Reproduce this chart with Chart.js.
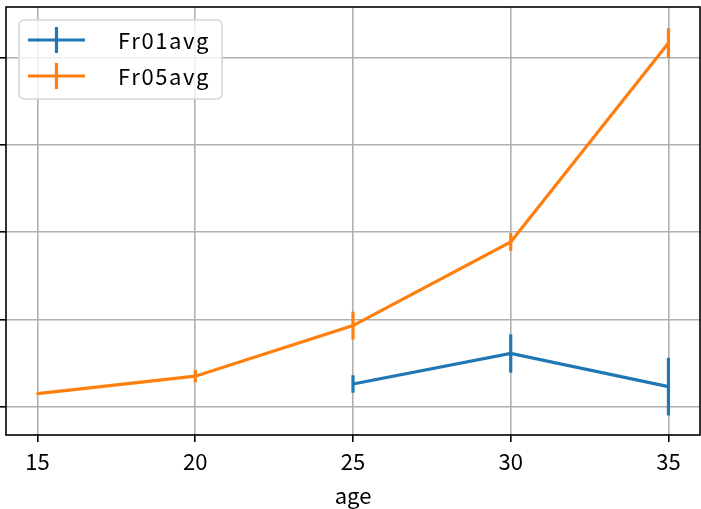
<!DOCTYPE html>
<html>
<head>
<meta charset="utf-8">
<script src="https://cdn.jsdelivr.net/npm/chart.js@4"></script>
<style>
  html, body { margin: 0; padding: 0; background: #fff; }
  #wrap { width: 701px; height: 509px; }
</style>
</head>
<body>
<div id="wrap"><canvas id="chart"></canvas></div>
<script>
// data
const ages = [15, 20, 25, 30, 35];
const fr01avg = [null, null, 0.26, 0.61, 0.23];
const fr01err = [null, null, 0.10, 0.22, 0.33];
const fr05avg = [0.15, 0.35, 0.93, 1.89, 4.17];
const fr05err = [0.01, 0.07, 0.16, 0.10, 0.17];
const xTicks = [15, 20, 25, 30, 35];
const yTicks = [0, 1, 2, 3, 4];

const FONT = "'Noto Sans CJK JP', 'DejaVu Sans', sans-serif";

function toPoints(ys, errs) {
    const pts = [];
    ages.forEach((a, i) => {
        if (ys[i] !== null) pts.push({ x: a, y: ys[i], err: errs[i] });
    });
    return pts;
}

// vertical error bars, no caps
const errorBars = {
    id: 'errorBars',
    afterDatasetsDraw(chart) {
        const ctx = chart.ctx;
        const ys = chart.scales.y;
        const xs = chart.scales.x;
        ctx.save();
        chart.data.datasets.forEach((ds) => {
            ctx.strokeStyle = ds.borderColor;
            ctx.lineWidth = 3.2;
            ds.data.forEach(p => {
                const px = xs.getPixelForValue(p.x);
                ctx.beginPath();
                ctx.moveTo(px, ys.getPixelForValue(p.y - p.err));
                ctx.lineTo(px, ys.getPixelForValue(p.y + p.err));
                ctx.stroke();
            });
        });
        ctx.restore();
    }
};

// spines + legend box in matplotlib style
const frame = {
    id: 'frame',
    afterDraw(chart) {
        const ctx = chart.ctx;
        const a = chart.chartArea;
        ctx.save();
        ctx.strokeStyle = '#000';
        ctx.lineWidth = 1.6;
        ctx.strokeRect(a.left, a.top, a.right - a.left, a.bottom - a.top);

        // legend
        const bx = a.left + 13, by = a.top + 13, bw = 203, bh = 79;
        ctx.beginPath();
        ctx.roundRect(bx, by, bw, bh, 5);
        ctx.fillStyle = 'rgba(255,255,255,0.8)';
        ctx.fill();
        ctx.strokeStyle = '#d6d6d6';
        ctx.lineWidth = 1.6;
        ctx.stroke();

        chart.data.datasets.forEach((ds, i) => {
            const cy = by + 20 + i * 36;
            ctx.strokeStyle = ds.borderColor;
            ctx.lineWidth = 3.2;
            ctx.beginPath();
            ctx.moveTo(bx + 9, cy);
            ctx.lineTo(bx + 66, cy);
            ctx.moveTo(bx + 37.5, cy - 13);
            ctx.lineTo(bx + 37.5, cy + 13);
            ctx.stroke();
            ctx.fillStyle = '#000';
            ctx.font = '22px ' + FONT;
            ctx.textBaseline = 'middle';
            // reference font is monospaced, stretch to the same width
            ctx.letterSpacing = '0px';
            const w = ctx.measureText(ds.label).width;
            ctx.letterSpacing = Math.max(0, (92 - w) / ds.label.length).toFixed(2) + 'px';
            ctx.fillText(ds.label, bx + 99, cy + 1);
        });
        ctx.restore();
    }
};

new Chart(document.getElementById('chart'), {
    type: 'line',
    data: {
        datasets: [{
            label: 'Fr01avg',
            data: toPoints(fr01avg, fr01err),
            borderColor: '#1f77b4',
            backgroundColor: '#1f77b4',
            borderWidth: 3.2,
            pointRadius: 0,
            tension: 0
        }, {
            label: 'Fr05avg',
            data: toPoints(fr05avg, fr05err),
            borderColor: '#ff7f0e',
            backgroundColor: '#ff7f0e',
            borderWidth: 3.2,
            pointRadius: 0,
            tension: 0
        }]
    },
    options: {
        responsive: true,
        maintainAspectRatio: false,
        animation: false,
        layout: { padding: { top: 7, right: 1, left: 0, bottom: 0 } },
        plugins: {
            legend: { display: false },
            tooltip: { enabled: false }
        },
        scales: {
            x: {
                type: 'linear',
                min: 14,
                max: 36,
                afterBuildTicks: s => { s.ticks = xTicks.map(v => ({ value: v })); },
                afterFit: s => { s.height = 74; },
                grid: { color: '#b0b0b0', lineWidth: 1.6, tickColor: '#000', tickLength: 7 },
                border: { display: false },
                ticks: { color: '#000', font: { family: FONT, size: 22 }, padding: 6, maxRotation: 0 },
                title: { display: true, text: 'age', color: '#000', font: { family: FONT, size: 22 }, padding: { top: 2, bottom: 0 } }
            },
            y: {
                min: -0.325,
                max: 4.584,
                afterBuildTicks: s => { s.ticks = yTicks.map(v => ({ value: v })); },
                afterFit: s => { s.width = 6; },
                grid: { color: '#b0b0b0', lineWidth: 1.6, tickColor: '#000', tickLength: 7 },
                border: { display: false },
                ticks: { display: false }
            }
        }
    },
    plugins: [errorBars, frame]
});
</script>
</body>
</html>
